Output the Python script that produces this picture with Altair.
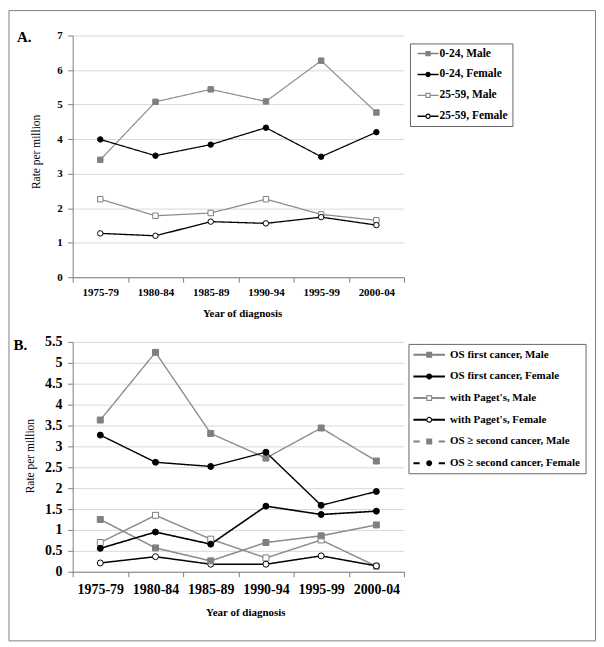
import math
import altair as alt
import pandas as pd

FONT = "Liberation Serif"
GRAY_LINE = "#8c8c8c"
GRAY_MARK = "#808080"
BLACK = "#000000"
WHITE = "#ffffff"
AXIS_GRAY = "#7f7f7f"
GRID = "#d9d9d9"

# ---------------- data ----------------
periods = ["1975-79", "1980-84", "1985-89", "1990-94", "1995-99", "2000-04"]

a_series = ["0-24, Male", "0-24, Female", "25-59, Male", "25-59, Female"]
a_male_0_24 = [3.40, 5.08, 5.44, 5.09, 6.27, 4.77]
a_female_0_24 = [3.99, 3.52, 3.84, 4.33, 3.49, 4.20]
a_male_25_59 = [2.26, 1.78, 1.86, 2.26, 1.82, 1.65]
a_female_25_59 = [1.27, 1.20, 1.61, 1.56, 1.74, 1.51]

b_series = [
    "OS first cancer, Male",
    "OS first cancer, Female",
    "with Paget's, Male",
    "with Paget's, Female",
    "OS \u2265 second cancer, Male",
    "OS \u2265 second cancer, Female",
]
b_os_first_male = [3.63, 5.25, 3.31, 2.72, 3.44, 2.65]
b_os_first_female = [3.27, 2.62, 2.52, 2.86, 1.59, 1.92]
b_paget_male = [0.70, 1.35, 0.78, 0.33, 0.76, 0.13]
b_paget_female = [0.21, 0.36, 0.18, 0.18, 0.38, 0.14]
b_os_second_male = [1.25, 0.57, 0.26, 0.70, 0.86, 1.12]
b_os_second_female = [0.56, 0.95, 0.66, 1.57, 1.37, 1.45]

a_ticks = [0, 1, 2, 3, 4, 5, 6, 7]
b_ticks = [0, 0.5, 1, 1.5, 2, 2.5, 3, 3.5, 4, 4.5, 5, 5.5]


def long_df(series, value_lists):
    rows = []
    for s, vals in zip(series, value_lists):
        for p, v in zip(periods, vals):
            rows.append({"period": p, "series": s, "rate": v})
    return pd.DataFrame(rows)


# ---------------- legend symbol paths (line + marker) ----------------
def _poly(pts, ccw=False):
    if ccw:
        pts = pts[::-1]
    return "M" + " L".join(f"{x:.3f},{y:.3f}" for x, y in pts) + " Z"


def _rect(x0, y0, x1, y1, ccw=False):
    return _poly([(x0, y0), (x1, y0), (x1, y1), (x0, y1)], ccw)


def _circle(r, ccw=False, n=16):
    pts = [(r * math.cos(2 * math.pi * k / n), r * math.sin(2 * math.pi * k / n)) for k in range(n)]
    return _poly(pts, ccw)


def legend_symbol(marker, filled, half_w, t, m, dashed=False, gap=0.0, ring=0.2):
    parts = []
    if dashed:
        parts.append(_rect(-half_w, -t, -gap, t))
        parts.append(_rect(gap, -t, half_w, t))
    elif filled:
        parts.append(_rect(-half_w, -t, half_w, t))
    else:
        parts.append(_rect(-half_w, -t, -m, t))
        parts.append(_rect(m, -t, half_w, t))
    if marker == "square":
        parts.append(_rect(-m, -m, m, m))
        if not filled:
            parts.append(_rect(-(m - ring), -(m - ring), m - ring, m - ring, ccw=True))
    else:
        parts.append(_circle(m))
        if not filled:
            parts.append(_circle(m - ring, ccw=True))
    return " ".join(parts)


def make_panel(series, value_lists, *, height, y_max, y_ticks, line_colors, line_widths,
               dashes, shapes, fills, strokes, point_size, legend_paths, legend_colors,
               legend, tick_size_font, y_title_x, y_title_y, x_title_x, x_title_y,
               x_label_pad, y_label_pad, tag, tag_x, tag_y, extra_layers=()):
    df = long_df(series, value_lists)
    x = alt.X(
        "period:N",
        sort=periods,
        scale=alt.Scale(type="band", domain=periods, paddingInner=0, paddingOuter=0),
        axis=alt.Axis(
            title="Year of diagnosis",
            tickBand="extent",
            labelAngle=0,
            grid=False,
            domainColor=AXIS_GRAY,
            tickColor=AXIS_GRAY,
            tickSize=5,
            labelPadding=x_label_pad,
            labelFont=FONT,
            labelFontSize=tick_size_font,
            labelFontWeight="bold",
            labelColor=BLACK,
            titleFont=FONT,
            titleFontSize=11,
            titleFontWeight="bold",
            titleColor=BLACK,
            titleX=x_title_x,
            titleY=x_title_y,
            titleBaseline="middle",
        ),
    )
    y = alt.Y(
        "rate:Q",
        scale=alt.Scale(domain=[0, y_max], nice=False, zero=True),
        axis=alt.Axis(
            title="Rate per million",
            values=y_ticks,
            format="~g",
            grid=True,
            gridColor=GRID,
            domainColor=AXIS_GRAY,
            tickColor=AXIS_GRAY,
            tickSize=5,
            labelPadding=y_label_pad,
            labelFont=FONT,
            labelFontSize=tick_size_font,
            labelFontWeight="bold",
            labelColor=BLACK,
            titleFont=FONT,
            titleFontSize=11.5,
            titleFontWeight="normal",
            titleColor=BLACK,
            titleX=y_title_x,
            titleY=y_title_y,
            titleBaseline="middle",
        ),
    )
    base = alt.Chart(df)
    lines = base.mark_line().encode(
        x=x,
        y=y,
        color=alt.Color("series:N", scale=alt.Scale(domain=series, range=line_colors), legend=None),
        strokeDash=alt.StrokeDash("series:N", scale=alt.Scale(domain=series, range=dashes), legend=None),
        strokeWidth=alt.StrokeWidth("series:N", scale=alt.Scale(domain=series, range=line_widths), legend=None),
    )
    points = base.mark_point(opacity=1, size=point_size, strokeWidth=1).encode(
        x=x,
        y=y,
        shape=alt.Shape("series:N", scale=alt.Scale(domain=series, range=shapes), legend=None),
        fill=alt.Fill("series:N", scale=alt.Scale(domain=series, range=fills), legend=None),
        stroke=alt.Stroke("series:N", scale=alt.Scale(domain=series, range=strokes), legend=None),
    )
    legend_layer = base.transform_filter("false").mark_point(filled=True, opacity=1).encode(
        x=x,
        y=y,
        color=alt.Color("series:N", scale=alt.Scale(domain=series, range=legend_colors), legend=legend),
        shape=alt.Shape("series:N", scale=alt.Scale(domain=series, range=legend_paths), legend=legend),
    )
    tag_layer = alt.Chart(alt.Data(values=[{"tag": tag}])).mark_text(
        align="left", baseline="middle", font=FONT, fontSize=15, fontWeight="bold", color=BLACK
    ).encode(text="tag:N", x=alt.value(tag_x), y=alt.value(tag_y))
    layers = list(extra_layers) + [lines, points, legend_layer, tag_layer]
    return alt.layer(*layers).resolve_scale(color="independent", shape="independent").properties(
        width=333, height=height
    )


# ---------------- panel A ----------------
A_HALF, A_T, A_M = 1.75, 0.12, 0.45
a_legend_paths = [
    legend_symbol("square", True, A_HALF, A_T, A_M),
    legend_symbol("circle", True, A_HALF, A_T, A_M),
    legend_symbol("square", False, A_HALF, A_T, A_M),
    legend_symbol("circle", False, A_HALF, A_T, A_M),
]
a_legend = alt.Legend(
    title=None, orient="none", legendX=339, legendY=8, direction="vertical",
    padding=4.2, rowPadding=9, symbolSize=144, symbolStrokeWidth=0,
    symbolOffset=8, labelOffset=5.5, labelFont=FONT, labelFontSize=11.5,
    labelFontWeight="bold", labelColor=BLACK, labelLimit=300,
    strokeColor="#666666", fillColor=WHITE,
)
frame = alt.Chart(alt.Data(values=[{"f": 1}])).mark_rect(
    fillOpacity=0, stroke="#7f7f7f", strokeWidth=1
).encode(x=alt.value(-64), x2=alt.value(525.5), y=alt.value(-25), y2=alt.value(608.5))

panel_a = make_panel(
    a_series,
    [a_male_0_24, a_female_0_24, a_male_25_59, a_female_25_59],
    height=243, y_max=7, y_ticks=a_ticks,
    line_colors=[GRAY_LINE, BLACK, GRAY_LINE, BLACK],
    line_widths=[1.2, 1.6, 1.2, 1.6],
    dashes=[[1, 0], [1, 0], [1, 0], [1, 0]],
    shapes=["square", "circle", "square", "circle"],
    fills=[GRAY_MARK, BLACK, WHITE, WHITE],
    strokes=[GRAY_MARK, BLACK, GRAY_MARK, BLACK],
    point_size=30,
    legend_paths=a_legend_paths,
    legend_colors=[GRAY_MARK, BLACK, GRAY_LINE, BLACK],
    legend=a_legend, tick_size_font=11,
    y_title_x=-36, y_title_y=116.5, x_title_x=170.3, x_title_y=36,
    x_label_pad=4.7, y_label_pad=5.5,
    tag="A.", tag_x=-56, tag_y=2, extra_layers=[frame],
)

# ---------------- panel B ----------------
B_HALF, B_T, B_M, B_GAP = 2.64, 0.17, 0.5, 1.6
b_legend_paths = [
    legend_symbol("square", True, B_HALF, B_T, B_M),
    legend_symbol("circle", True, B_HALF, B_T, B_M),
    legend_symbol("square", False, B_HALF, B_T, B_M),
    legend_symbol("circle", False, B_HALF, B_T, B_M),
    legend_symbol("square", True, B_HALF, B_T, B_M, dashed=True, gap=B_GAP),
    legend_symbol("circle", True, B_HALF, B_T, B_M, dashed=True, gap=B_GAP),
]
b_legend = alt.Legend(
    title=None, orient="none", legendX=337.5, legendY=2, direction="vertical",
    padding=4.85, rowPadding=10.8, symbolSize=144, symbolStrokeWidth=0,
    symbolOffset=10, labelOffset=15, labelFont=FONT, labelFontSize=11,
    labelFontWeight="bold", labelColor=BLACK, labelLimit=300,
    strokeColor="#666666", fillColor=WHITE,
)

panel_b = make_panel(
    b_series,
    [b_os_first_male, b_os_first_female, b_paget_male, b_paget_female,
     b_os_second_male, b_os_second_female],
    height=231, y_max=5.5, y_ticks=b_ticks,
    line_colors=[GRAY_LINE, BLACK, GRAY_LINE, BLACK, GRAY_LINE, BLACK],
    line_widths=[2, 2, 2, 2, 2, 2],
    dashes=[[1, 0], [1, 0], [1, 0], [1, 0], [7, 4], [7, 4]],
    shapes=["square", "circle", "square", "circle", "square", "circle"],
    fills=[GRAY_MARK, BLACK, WHITE, WHITE, GRAY_MARK, BLACK],
    strokes=[GRAY_MARK, BLACK, GRAY_MARK, BLACK, GRAY_MARK, BLACK],
    point_size=36,
    legend_paths=b_legend_paths,
    legend_colors=[GRAY_MARK, BLACK, GRAY_LINE, BLACK, GRAY_MARK, BLACK],
    legend=b_legend, tick_size_font=14,
    y_title_x=-42, y_title_y=114.3, x_title_x=173.5, x_title_y=41,
    x_label_pad=5.4, y_label_pad=5.8,
    tag="B.", tag_x=-59.5, tag_y=3.5,
)

chart = (
    alt.vconcat(panel_a, panel_b, spacing=65, bounds="flush")
    .properties(padding=0)
    .configure_view(stroke=None)
)

chart.save("out.html", embed_options={"renderer": "svg", "actions": False})
